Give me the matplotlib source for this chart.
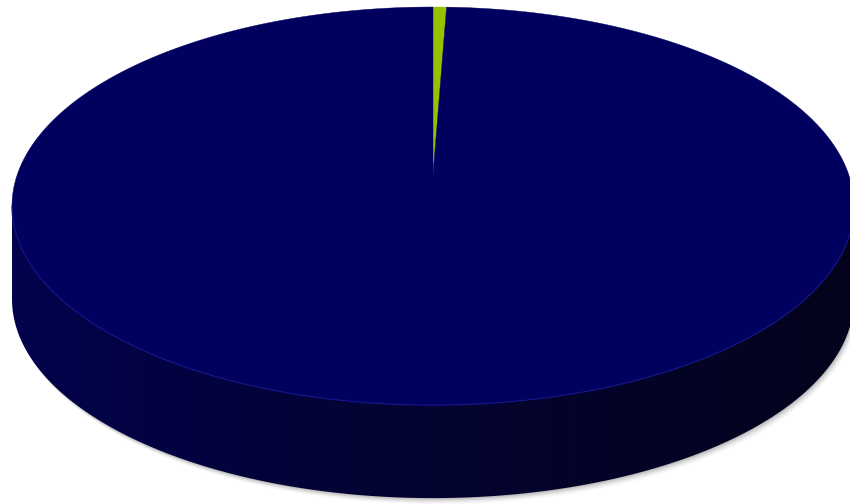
import numpy as np
import matplotlib
matplotlib.use("Agg")
import matplotlib.pyplot as plt
from matplotlib.patches import Polygon
from matplotlib.colors import LinearSegmentedColormap

# ---- data ----
categories = ["Category A", "Category B"]
values = [0.6, 99.4]
colors = ["#95c100", "#00005e"]

W, H = 850, 504
fig = plt.figure(figsize=(8.5, 5.04), dpi=100)
ax = fig.add_axes([0, 0, 1, 1])
ax.set_xlim(0, W)
ax.set_ylim(H, 0)
ax.axis('off')

# perspective parameters
cx, cy = 433.0, 175.0
k = 0.156
B = 194.2
A = 421 * np.sqrt(1 - k ** 2)
depth = 93.0


def proj(theta):
    """theta clockwise from 12 o'clock (radians) -> screen coords"""
    u = np.sin(theta)
    v = np.cos(theta)
    d = 1 + k * v
    return cx + A * u / d, cy - B * v / d


# side (visible front part of the cylinder)
t1 = np.arccos(-k)
t2 = 2 * np.pi - t1
ts = np.linspace(t1, t2, 400)
xt, yt = proj(ts)
side_pts = np.concatenate([np.column_stack([xt, yt]),
                           np.column_stack([xt[::-1], yt[::-1] + depth])])

# shadow
for i, a in zip(range(1, 8), [0.10, 0.08, 0.07, 0.05, 0.04, 0.03, 0.02]):
    sh = side_pts.copy()
    sh[:, 0] += i * 0.6
    sh[:, 1] += i * 0.9
    ax.add_patch(Polygon(sh, closed=True, facecolor="#404040", edgecolor="none",
                         alpha=a, zorder=1))

side = Polygon(side_pts, closed=True, facecolor="none", edgecolor="none", zorder=2)
ax.add_patch(side)
cmap = LinearSegmentedColormap.from_list("side", ["#02024e", "#030338", "#04042a", "#03031d"])
grad = np.linspace(0, 1, 256).reshape(1, -1)
im = ax.imshow(grad, extent=[xt.min(), xt.max(), H, 0], cmap=cmap, aspect='auto',
               zorder=2, interpolation='bilinear')
im.set_clip_path(side)
ax.set_xlim(0, W)
ax.set_ylim(H, 0)

# top face wedges
total = sum(values)
start = 0.0
for val, col in zip(values, colors):
    ang = 2 * np.pi * val / total
    tt = np.linspace(start, start + ang, max(int(600 * val / total), 10))
    px, py = proj(tt)
    pts = np.vstack([[cx, cy], np.column_stack([px, py])])
    ax.add_patch(Polygon(pts, closed=True, facecolor=col, edgecolor=col,
                         linewidth=0.3, zorder=3))
    start += ang

# subtle lighter rim on the front of the top face
ax.plot(xt, yt, color="#12128a", linewidth=1.0, alpha=0.8, zorder=4)

fig.savefig("out.png", dpi=100)
